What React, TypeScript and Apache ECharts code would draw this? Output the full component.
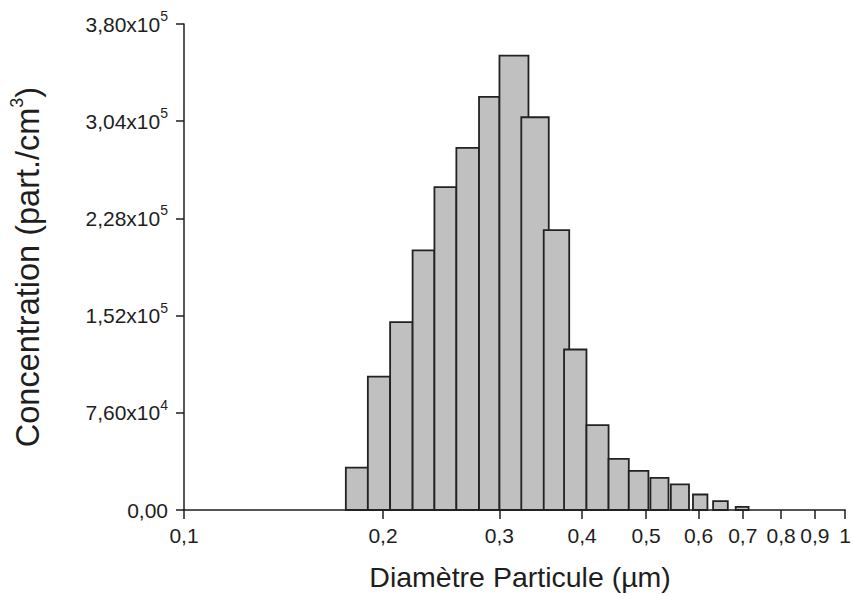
import React, { useEffect, useRef } from "react";
import * as echarts from "echarts";

// Bin edges (µm) and concentrations (part./cm³), in drawing order
const binLow = [0.1757, 0.1897, 0.205, 0.2217, 0.2392, 0.2582, 0.2794, 0.3, 0.3237, 0.35, 0.3757, 0.4062, 0.4387, 0.4707, 0.5075, 0.5449, 0.5886, 0.6313, 0.6831];
const binHigh = [0.1897, 0.205, 0.2217, 0.2392, 0.2582, 0.2794, 0.3, 0.3319, 0.3562, 0.3825, 0.4062, 0.4387, 0.4707, 0.504, 0.5405, 0.5805, 0.619, 0.6645, 0.7144];
const concentration = [33100, 104300, 146900, 203000, 252400, 283100, 323000, 355300, 307100, 218900, 125500, 66300, 39900, 30600, 25100, 20100, 12100, 6900, 2500];

const xTicks = [0.1, 0.2, 0.3, 0.4, 0.5, 0.6, 0.7, 0.8, 0.9, 1];

const FONT = "'Liberation Sans', Arial, Helvetica, sans-serif";
const INK = "#1e1e1e";

function yLabel(v: number): string {
  if (v === 0) return "{a|0,00}";
  const e = Math.floor(Math.log10(v) + 1e-9);
  const m = (v / Math.pow(10, e)).toFixed(2).replace(".", ",");
  return `{a|${m}x10}{b|${e}}`;
}

export default function App() {
  const ref = useRef<HTMLDivElement>(null);
  useEffect(() => {
    if (!ref.current) return;
    const chart = echarts.init(ref.current, undefined, { renderer: "svg" });
    const data = binLow.map((lo, i) => [Math.log10(lo), Math.log10(binHigh[i]), concentration[i]]);
    chart.setOption({
      animation: false,
      backgroundColor: "#ffffff",
      grid: { left: 183, right: 5, top: 24, bottom: 84.5 },
      xAxis: {
        type: "value",
        min: -1,
        max: 0,
        name: "Diamètre Particule (µm)",
        nameLocation: "middle",
        nameGap: 52,
        nameTextStyle: { fontFamily: FONT, fontSize: 28.5, color: INK, padding: [0, 0, 0, 11] },
        axisLine: { show: true, onZero: false, lineStyle: { color: INK, width: 1.5 } },
        axisTick: { show: true, length: 9, lineStyle: { color: INK, width: 1.5 }, customValues: xTicks.map((t) => Math.log10(t)) },
        axisLabel: {
          show: true,
          margin: 15,
          fontFamily: FONT,
          fontSize: 21,
          color: INK,
          customValues: xTicks.map((t) => Math.log10(t)),
          formatter: (v: number) => {
            const d = Math.round(Math.pow(10, v) * 10) / 10;
            return d === 1 ? "1" : String(d).replace(".", ",");
          },
        },
        splitLine: { show: false },
      },
      yAxis: {
        type: "value",
        min: 0,
        max: 380000,
        interval: 76000,
        name: "{a|Concentration (part./cm}{b|3}{a|)}",
        nameLocation: "middle",
        nameGap: 136,
        nameTextStyle: {
          fontFamily: FONT,
          color: INK,
          rich: {
            a: { fontFamily: FONT, fontSize: 32.5, color: INK, lineHeight: 40 },
            b: { fontFamily: FONT, fontSize: 18, color: INK, lineHeight: 18, verticalAlign: "top" },
          },
        },
        axisLine: { show: true, onZero: false, lineStyle: { color: INK, width: 1.5 } },
        axisTick: { show: true, length: 8, lineStyle: { color: INK, width: 1.5 } },
        axisLabel: {
          show: true,
          margin: 16,
          formatter: yLabel,
          rich: {
            a: { fontFamily: FONT, fontSize: 21, color: INK, lineHeight: 30 },
            b: { fontFamily: FONT, fontSize: 14, color: INK, lineHeight: 14, verticalAlign: "top" },
          },
        },
        splitLine: { show: false },
      },
      series: [
        {
          type: "custom",
          data,
          encode: { x: [0, 1], y: 2 },
          renderItem: (params: any, api: any) => {
            const lo = api.value(0);
            const hi = api.value(1);
            const v = api.value(2);
            const p0 = api.coord([lo, v]);
            const p1 = api.coord([hi, 0]);
            return {
              type: "rect",
              shape: { x: p0[0], y: p0[1], width: p1[0] - p0[0], height: p1[1] - p0[1] },
              style: { fill: "#c0c0c0", stroke: "#222222", lineWidth: 1.8 },
            };
          },
        },
      ],
    });
    return () => chart.dispose();
  }, []);
  return (
    <div
      ref={ref}
      style={{ position: "fixed", left: 0, top: 0, width: 854, height: 596, background: "#fff" }}
    />
  );
}
